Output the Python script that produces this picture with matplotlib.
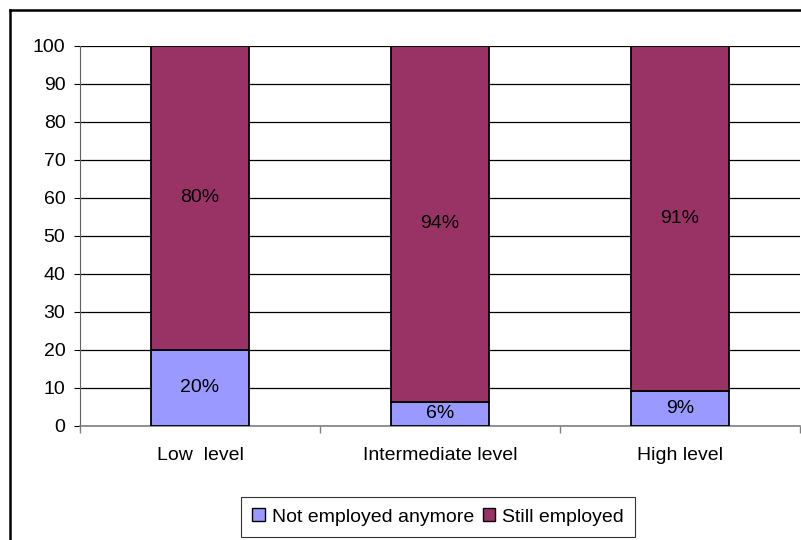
import matplotlib
matplotlib.use("Agg")
import matplotlib.pyplot as plt
from matplotlib.lines import Line2D
from matplotlib.patches import Patch
import numpy as np

plt.rcParams['font.family'] = ['Liberation Sans', 'DejaVu Sans']

categories = ["Low  level", "Intermediate level", "High level"]
not_employed = [20.0, 6.4, 9.3]
still_employed = [80.0, 93.6, 90.7]
not_labels = ["20%", "6%", "9%"]
still_labels = ["80%", "94%", "91%"]
series_names = ["Not employed anymore", "Still employed"]
colors = ["#9999FF", "#993366"]

fig = plt.figure(figsize=(8.01, 5.40), dpi=100)
ax = fig.add_axes([80 / 801, 1 - 426 / 540, 720 / 801, 380 / 540])

x = np.arange(len(categories))
w = 0.405
ax.bar(x, not_employed, w, color=colors[0], edgecolor="black", linewidth=1.3, zorder=3)
ax.bar(x, still_employed, w, bottom=not_employed, color=colors[1], edgecolor="black",
       linewidth=1.3, zorder=3)

fs = 14
for i in range(len(categories)):
    ax.text(x[i], not_employed[i] / 2, not_labels[i], ha="center", va="center",
            fontsize=fs, zorder=4)
    ax.text(x[i], not_employed[i] + still_employed[i] / 2, still_labels[i],
            ha="center", va="center", fontsize=fs, zorder=4)

ax.set_xlim(-0.5, 2.5)
ax.set_ylim(0, 100)
ax.set_yticks(range(0, 101, 10))
ax.yaxis.grid(True, color="black", linewidth=0.9)
ax.set_axisbelow(True)

ax.set_xticks(x)
ax.set_xticklabels(categories, fontsize=fs)
ax.tick_params(axis="x", which="major", length=0, pad=15)
ax.set_xticks([-0.5, 0.5, 1.5, 2.5], minor=True)
ax.tick_params(axis="x", which="minor", length=5, width=1, color="#808080")
ax.tick_params(axis="y", labelsize=fs, length=4.5, width=0.8, pad=6)

for s in ["top", "right"]:
    ax.spines[s].set_visible(False)
ax.spines["left"].set_color("#606060")
ax.spines["bottom"].set_color("#808080")
ax.spines["bottom"].set_linewidth(1.2)

handles = [Patch(facecolor=colors[0], edgecolor="black", linewidth=1),
           Patch(facecolor=colors[1], edgecolor="black", linewidth=1)]
leg = fig.legend(handles, series_names, loc="center", bbox_to_anchor=(438 / 801, 1 - 517 / 540),
                 ncol=2, fontsize=fs, frameon=True, fancybox=False, handlelength=0.65,
                 handleheight=0.65, handletextpad=0.35, columnspacing=0.45, borderpad=0.6)
leg.get_frame().set_edgecolor("black")
leg.get_frame().set_linewidth(0.8)

# outer chart frame (left and top edges visible)
fig.add_artist(Line2D([9.5 / 801, 9.5 / 801], [0, 1 - 9.5 / 540], color="black",
                      linewidth=1.8, transform=fig.transFigure))
fig.add_artist(Line2D([9.5 / 801, 1], [1 - 9.5 / 540, 1 - 9.5 / 540], color="black",
                      linewidth=1.8, transform=fig.transFigure))

fig.savefig("out.png", dpi=100)
